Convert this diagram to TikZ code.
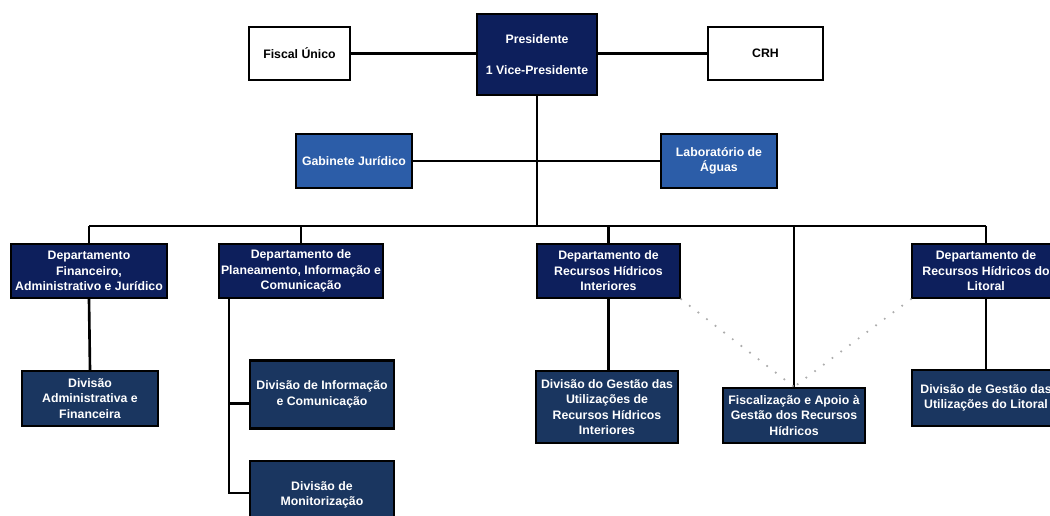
\documentclass[tikz,border=0pt]{standalone}
\usepackage{fontspec}
\setmainfont{Liberation Sans}
\definecolor{navy}{RGB}{13,31,92}
\definecolor{divblue}{RGB}{26,54,96}
\definecolor{gabblue}{RGB}{44,93,168}

\tikzset{orgbox/.style={draw = black, line width = 1.3pt, rectangle,
           inner sep = 1pt, align = center, text = white,
           font = \fontsize{7}{8.8}\selectfont\bfseries},
         navybox/.style={orgbox, fill = navy},
         divbox/.style={orgbox, fill = divblue},
         staffbox/.style={orgbox, fill = gabblue},
         plainbox/.style={orgbox, fill = white, text = black},
         link/.style={draw = black, line width = 1.5pt},
         dotlink/.style={draw = gray!65, line width = 1.4pt, line cap = round,
           dash pattern = on 0pt off 6.2pt}}

\begin{document}
\begin{tikzpicture}[
    x = 0.02cm, y = -0.02cm,
    every node/.style = {minimum height = 1.08cm}
  ]
  \useasboundingbox (0,0) rectangle (1050,516);
  \clip (0,0) rectangle (1050,516);

  % top of the chart
  \node[navybox, minimum width = 2.4cm, minimum height = 1.62cm] (Pres)
    at (537,54.5) {Presidente\\[9pt]1 Vice-Presidente};
  \node[plainbox, minimum width = 2.02cm, minimum height = 1.06cm] (Fiscal)
    at (299.5,53.5) {Fiscal Único};
  \node[plainbox, minimum width = 2.3cm, minimum height = 1.06cm] (CRH)
    at (765.5,53.5) {CRH};
  \node[staffbox, minimum width = 2.32cm] (Gab) at (354,161) {Gabinete Jurídico};
  \node[staffbox, minimum width = 2.32cm] (Lab) at (719,161) {Laboratório de\\Águas};

  % departments
  \node[navybox, minimum width = 3.12cm] (DepFin) at (89,271)
    {Departamento\\Financeiro,\\Administrativo e Jurídico};
  \node[navybox, minimum width = 3.16cm] (DepPlan) at (301,271)
    {Departamento de\\Planeamento, Informação e\\Comunicação};
  \node[navybox, minimum width = 2.86cm] (DepInt) at (608.5,271)
    {Departamento de\\Recursos Hídricos\\Interiores};
  \node[navybox, minimum width = 2.96cm] (DepLit) at (986,271)
    {Departamento de\\Recursos Hídricos do\\Litoral};

  % divisions
  \node[divbox, minimum width = 2.72cm, minimum height = 1.1cm] (DivAdm) at (90,398.5)
    {Divisão\\Administrativa e\\Financeira};
  \node[divbox, minimum width = 2.88cm, minimum height = 1.36cm] (DivInf) at (322,394.5)
    {Divisão de Informação\\e Comunicação};
  \node[divbox, minimum width = 2.88cm, minimum height = 1.36cm] (DivMon) at (322,495)
    {Divisão de\\Monitorização};
  \node[divbox, minimum width = 2.84cm, minimum height = 1.44cm] (DivInt) at (607,407)
    {Divisão do Gestão das\\Utilizações de\\Recursos Hídricos\\Interiores};
  \node[divbox, minimum width = 2.84cm, minimum height = 1.1cm] (Fisc) at (794,415.5)
    {Fiscalização e Apoio à\\Gestão dos Recursos\\Hídricos};
  \node[divbox, minimum width = 2.96cm, minimum height = 1.12cm] (DivLit) at (986,398)
    {Divisão de Gestão das\\Utilizações do Litoral};

  \coordinate (Bus) at (537,226);
  \coordinate (Tap) at (229,298);

  % connectors
  \path[link] (Fiscal.east) -- (Pres.west |- Fiscal.east);
  \path[link] (Pres.east |- CRH.west) -- (CRH.west);
  \path[link] (Gab.east) -- (Lab.west);
  \path[link] (Pres.south) -- (Bus);
  \path[link] (DepFin.north |- Bus) -- (DepLit.north |- Bus);
  \foreach \dep in {DepFin, DepPlan, DepInt, DepLit}
    \path[link] (\dep.north |- Bus) -- (\dep.north);
  \path[link] (Fisc.north |- Bus) -- (Fisc.north);
  \path[link] (DepFin.south) -- (DivAdm.north);
  \path[link] (DepInt.south) -- (DivInt.north -| DepInt.south);
  \path[link] (DepLit.south -| DivLit.north) -- (DivLit.north);
  \path[link] (Tap) |- ([yshift = -0.18cm]DivInf.west);
  \path[link] (Tap) |- ([yshift = 0.04cm]DivMon.west);
  \path[dotlink] (DepInt.south east) -- (Fisc.north);
  \path[dotlink] (DepLit.south west) -- (Fisc.north);
\end{tikzpicture}
\end{document}
